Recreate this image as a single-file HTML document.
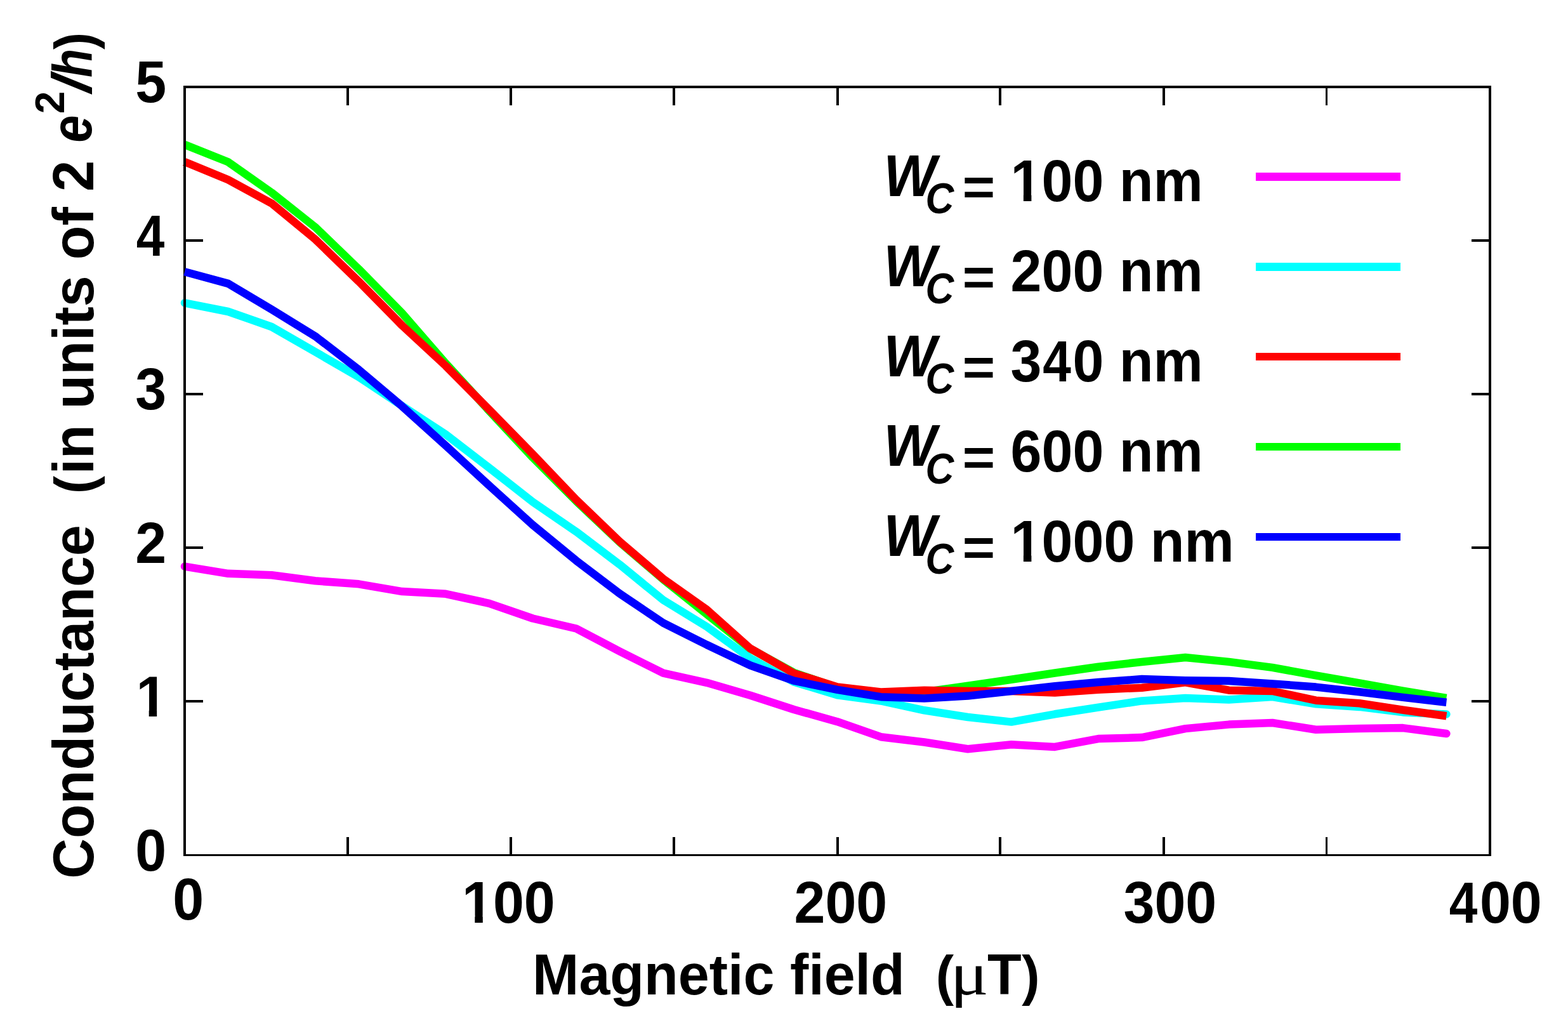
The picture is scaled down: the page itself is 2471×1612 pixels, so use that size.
<!DOCTYPE html>
<html lang="en"><head><meta charset="utf-8"><title>Conductance vs magnetic field</title>
<style>
html,body{margin:0;padding:0;background:#fff;}
body{width:2471px;height:1612px;overflow:hidden;}
svg{display:block;}
text{font-family:"Liberation Sans",sans-serif;font-weight:bold;font-size:88px;fill:#000;white-space:pre;}
.it{font-style:italic;}
.sym{font-family:"Liberation Serif",serif;font-weight:normal;font-style:normal;}
.ln{fill:none;stroke-width:12.5;stroke-linejoin:round;stroke-miterlimit:10;}
</style></head><body>
<svg xmlns="http://www.w3.org/2000/svg" width="2471" height="1612" viewBox="0 0 2471 1612">
<rect width="2471" height="1612" fill="#fff"/>
<defs><clipPath id="one"><path clip-rule="evenodd" d="M-20,-120H900V60H-20Z M-2,-10.6H20.3V2H-2Z M32.8,-10.6H50V2H32.8Z"/></clipPath></defs>
<g id="curves-under">
<polyline class="ln" points="291.0,892.6 359.6,903.8 428.1,906.3 496.7,915.3 565.3,920.3 633.8,932.1 702.4,935.8 771.0,950.8 839.5,974.5 908.1,990.5 976.7,1026.5 1045.2,1060.7 1113.8,1075.8 1182.4,1095.8 1250.9,1118.0 1319.5,1137.2 1388.1,1161.2 1456.6,1169.5 1525.2,1180.3 1593.8,1173.3 1662.3,1176.9 1730.9,1164.1 1799.5,1162.1 1868.0,1148.1 1936.6,1141.6 2005.2,1139.0 2073.7,1149.7 2142.3,1148.1 2210.9,1147.1 2279.4,1156.0" stroke="#ff00ff" stroke-linecap="round"/>
<polyline class="ln" points="291.0,477.3 359.6,491.0 428.1,515.0 496.7,554.4 565.3,594.0 633.8,639.6 702.4,684.5 771.0,737.2 839.5,790.8 908.1,837.8 976.7,889.7 1045.2,945.5 1113.8,987.5 1182.4,1037.3 1250.9,1074.5 1319.5,1095.3 1388.1,1104.5 1456.6,1119.3 1525.2,1130.0 1593.8,1137.6 1662.3,1125.3 1730.9,1114.6 1799.5,1104.4 1868.0,1100.0 1936.6,1102.4 2005.2,1098.1 2073.7,1109.3 2142.3,1113.9 2210.9,1122.4 2279.4,1125.4" stroke="#00ffff" stroke-linecap="round"/>
<clipPath id="cl"><rect x="293" y="0" width="2100" height="1612"/></clipPath>
<polyline class="ln" points="291.0,227.9 359.6,255.3 428.1,303.5 496.7,357.8 565.3,423.9 633.8,493.7 702.4,572.5 771.0,647.5 839.5,720.9 908.1,789.6 976.7,854.4 1045.2,913.0 1113.8,967.9 1182.4,1022.3 1250.9,1059.8 1319.5,1083.5 1388.1,1091.5 1456.6,1090.5 1525.2,1080.7 1593.8,1070.7 1662.3,1060.5 1730.9,1050.7 1799.5,1043.0 1868.0,1036.0 1936.6,1042.9 2005.2,1051.9 2073.7,1064.3 2142.3,1076.4 2210.9,1088.6 2279.4,1099.8" stroke="#00ff00" stroke-linecap="butt" clip-path="url(#cl)"/>
<polyline class="ln" points="291.0,255.0 359.6,283.3 428.1,320.4 496.7,377.0 565.3,443.4 633.8,513.0 702.4,576.5 771.0,645.6 839.5,715.7 908.1,787.5 976.7,853.4 1045.2,912.0 1113.8,960.7 1182.4,1021.8 1250.9,1060.9 1319.5,1082.5 1388.1,1090.5 1456.6,1087.7 1525.2,1088.9 1593.8,1089.1 1662.3,1091.6 1730.9,1086.7 1799.5,1083.7 1868.0,1075.4 1936.6,1087.7 2005.2,1089.0 2073.7,1103.7 2142.3,1108.3 2210.9,1118.7 2279.4,1128.2" stroke="#ff0000" stroke-linecap="butt" clip-path="url(#cl)"/>
</g>
<g id="frame" fill="#000" shape-rendering="crispEdges">
<rect x="289" y="135" width="4" height="1214"/>
<rect x="2346" y="135" width="4" height="1214"/>
<rect x="289" y="135" width="2061" height="4"/>
<rect x="289" y="1346" width="2061" height="3"/>
<rect x="546" y="1319" width="4" height="27"/>
<rect x="546" y="139" width="4" height="27"/>
<rect x="803" y="1319" width="4" height="27"/>
<rect x="803" y="139" width="4" height="27"/>
<rect x="1060" y="1319" width="4" height="27"/>
<rect x="1060" y="139" width="4" height="27"/>
<rect x="1318" y="1319" width="4" height="27"/>
<rect x="1318" y="139" width="4" height="27"/>
<rect x="1574" y="1319" width="4" height="27"/>
<rect x="1574" y="139" width="4" height="27"/>
<rect x="1832" y="1319" width="4" height="27"/>
<rect x="1832" y="139" width="4" height="27"/>
<rect x="2089" y="1319" width="3" height="27"/>
<rect x="2089" y="139" width="3" height="27"/>
<rect x="293" y="1103" width="27" height="4"/>
<rect x="2319" y="1103" width="27" height="4"/>
<rect x="293" y="861" width="27" height="4"/>
<rect x="2319" y="861" width="27" height="4"/>
<rect x="293" y="619" width="27" height="4"/>
<rect x="2319" y="619" width="27" height="4"/>
<rect x="293" y="377" width="27" height="4"/>
<rect x="2319" y="377" width="27" height="4"/>
</g>
<rect x="288" y="260" width="1" height="1" fill="#ff0000" shape-rendering="crispEdges"/>
<g id="curves-over">
<polyline class="ln" points="291.0,428.3 359.6,446.9 428.1,487.7 496.7,529.8 565.3,582.5 633.8,640.3 702.4,702.1 771.0,765.2 839.5,827.2 908.1,883.4 976.7,935.5 1045.2,981.6 1113.8,1016.0 1182.4,1048.5 1250.9,1072.6 1319.5,1086.8 1388.1,1098.2 1456.6,1100.4 1525.2,1096.6 1593.8,1089.0 1662.3,1081.2 1730.9,1075.1 1799.5,1070.1 1868.0,1072.3 1936.6,1073.1 2005.2,1077.4 2073.7,1082.6 2142.3,1090.3 2210.9,1098.9 2279.4,1106.7" stroke="#0000ff" stroke-linecap="butt"/>
</g>
<g id="ylabels">
<text transform="translate(213.20 1371.50) scale(1.0000 1.0570)">0</text>
<text transform="translate(214.40 1129.40) scale(1.0000 1.0240)" clip-path="url(#one)">1</text>
<text transform="translate(213.20 887.30) scale(1.0000 1.0420)">2</text>
<text transform="translate(213.20 645.20) scale(1.0000 1.0570)">3</text>
<text transform="translate(214.80 403.10) scale(0.9120 1.0240)">4</text>
<text transform="translate(213.20 161.00) scale(1.0000 1.0500)">5</text>
</g>
<g id="xlabels">
<text transform="translate(272.20 1449.00) scale(1.0000 1.0570)">0</text>
<text transform="translate(728.00 1454.00) scale(1.0000 1.0570)" clip-path="url(#one)">100</text>
<text transform="translate(1251.50 1454.00) scale(1.0000 1.0570)">200</text>
<text transform="translate(1770.50 1454.00) scale(1.0000 1.0570)">300</text>
<text transform="translate(2283.80 1454.00) scale(1.0000 1.0570)"><tspan style="font-size:85.3px" textLength="44.63" lengthAdjust="spacingAndGlyphs">4</tspan><tspan dx="3.5">00</tspan></text>
</g>
<g id="xtitle">
<text transform="translate(839.10 1566.90) scale(1.0000 1.0350)">Magnetic field&#160;&#160;<tspan style="font-size:85px">(</tspan></text>
<text transform="translate(1497.40 1566.90) scale(1.1500 1.0000)" style="font-size:98px" class="sym">&#956;</text>
<text transform="translate(1556.10 1566.90) scale(1.0000 1.0350)">T<tspan style="font-size:85px" dx="0.5">)</tspan></text>
</g>
<g id="ytitle">
<text transform="translate(147.00 1384.60) rotate(-90) scale(1.0000 1.0350)">Conductance&#160;&#160;<tspan style="font-size:85px">(</tspan><tspan dx="2.5">in</tspan> <tspan dx="0.5">units</tspan> <tspan dx="0.5">of 2</tspan></text>
<text transform="translate(144.20 224.50) rotate(-90) scale(0.8750 1.0270)" class="it">e</text>
<text transform="translate(101.10 179.30) rotate(-90) scale(1.0000 1.0100)" style="font-size:64px">2</text>
<text transform="translate(143.30 145.50) rotate(-90) scale(1.0500 1.0000)" class="it">/</text>
<text transform="translate(144.30 122.00) rotate(-90) scale(0.8400 1.0000)" class="it">h</text>
<text transform="translate(147.00 78.00) rotate(-90) scale(0.9200 1.0000)">)</text>
</g>
<g id="legend">
<text transform="translate(1392.50 308.90) scale(1.0000 1.0570)" class="it">W</text>
<text transform="translate(1458.60 335.90) scale(1.0000 1.1100)" style="font-size:62px" class="it">C</text>
<text transform="translate(1516.70 322.90) scale(1.0000 0.9340)">=</text>
<text transform="translate(1592.60 316.50) scale(1.0000 1.0570)" clip-path="url(#one)">100 nm</text>
<rect x="1979" y="272" width="228" height="13" fill="#ff00ff" shape-rendering="crispEdges"/>
<text transform="translate(1392.50 450.90) scale(1.0000 1.0570)" class="it">W</text>
<text transform="translate(1458.60 477.90) scale(1.0000 1.1100)" style="font-size:62px" class="it">C</text>
<text transform="translate(1516.70 464.90) scale(1.0000 0.9340)">=</text>
<text transform="translate(1592.60 458.50) scale(1.0000 1.0570)">200 nm</text>
<rect x="1979" y="414" width="228" height="13" fill="#00ffff" shape-rendering="crispEdges"/>
<text transform="translate(1392.50 592.90) scale(1.0000 1.0570)" class="it">W</text>
<text transform="translate(1458.60 619.90) scale(1.0000 1.1100)" style="font-size:62px" class="it">C</text>
<text transform="translate(1516.70 606.90) scale(1.0000 0.9340)">=</text>
<text transform="translate(1592.60 600.50) scale(1.0000 1.0570)">3<tspan dx="1.6" style="font-size:85.3px" textLength="44.63" lengthAdjust="spacingAndGlyphs">4</tspan><tspan dx="2.7">0 nm</tspan></text>
<rect x="1979" y="556" width="228" height="12" fill="#ff0000" shape-rendering="crispEdges"/>
<text transform="translate(1392.50 733.90) scale(1.0000 1.0570)" class="it">W</text>
<text transform="translate(1458.60 761.90) scale(1.0000 1.1100)" style="font-size:62px" class="it">C</text>
<text transform="translate(1516.70 748.90) scale(1.0000 0.9340)">=</text>
<text transform="translate(1592.60 742.50) scale(1.0000 1.0570)">600 nm</text>
<rect x="1979" y="698" width="228" height="12" fill="#00ff00" shape-rendering="crispEdges"/>
<text transform="translate(1392.50 875.90) scale(1.0000 1.0570)" class="it">W</text>
<text transform="translate(1458.60 903.90) scale(1.0000 1.1100)" style="font-size:62px" class="it">C</text>
<text transform="translate(1516.70 890.90) scale(1.0000 0.9340)">=</text>
<text transform="translate(1592.60 884.50) scale(1.0000 1.0570)" clip-path="url(#one)">1000 nm</text>
<rect x="1979" y="840" width="228" height="12" fill="#0000ff" shape-rendering="crispEdges"/>
</g>
</svg></body></html>
